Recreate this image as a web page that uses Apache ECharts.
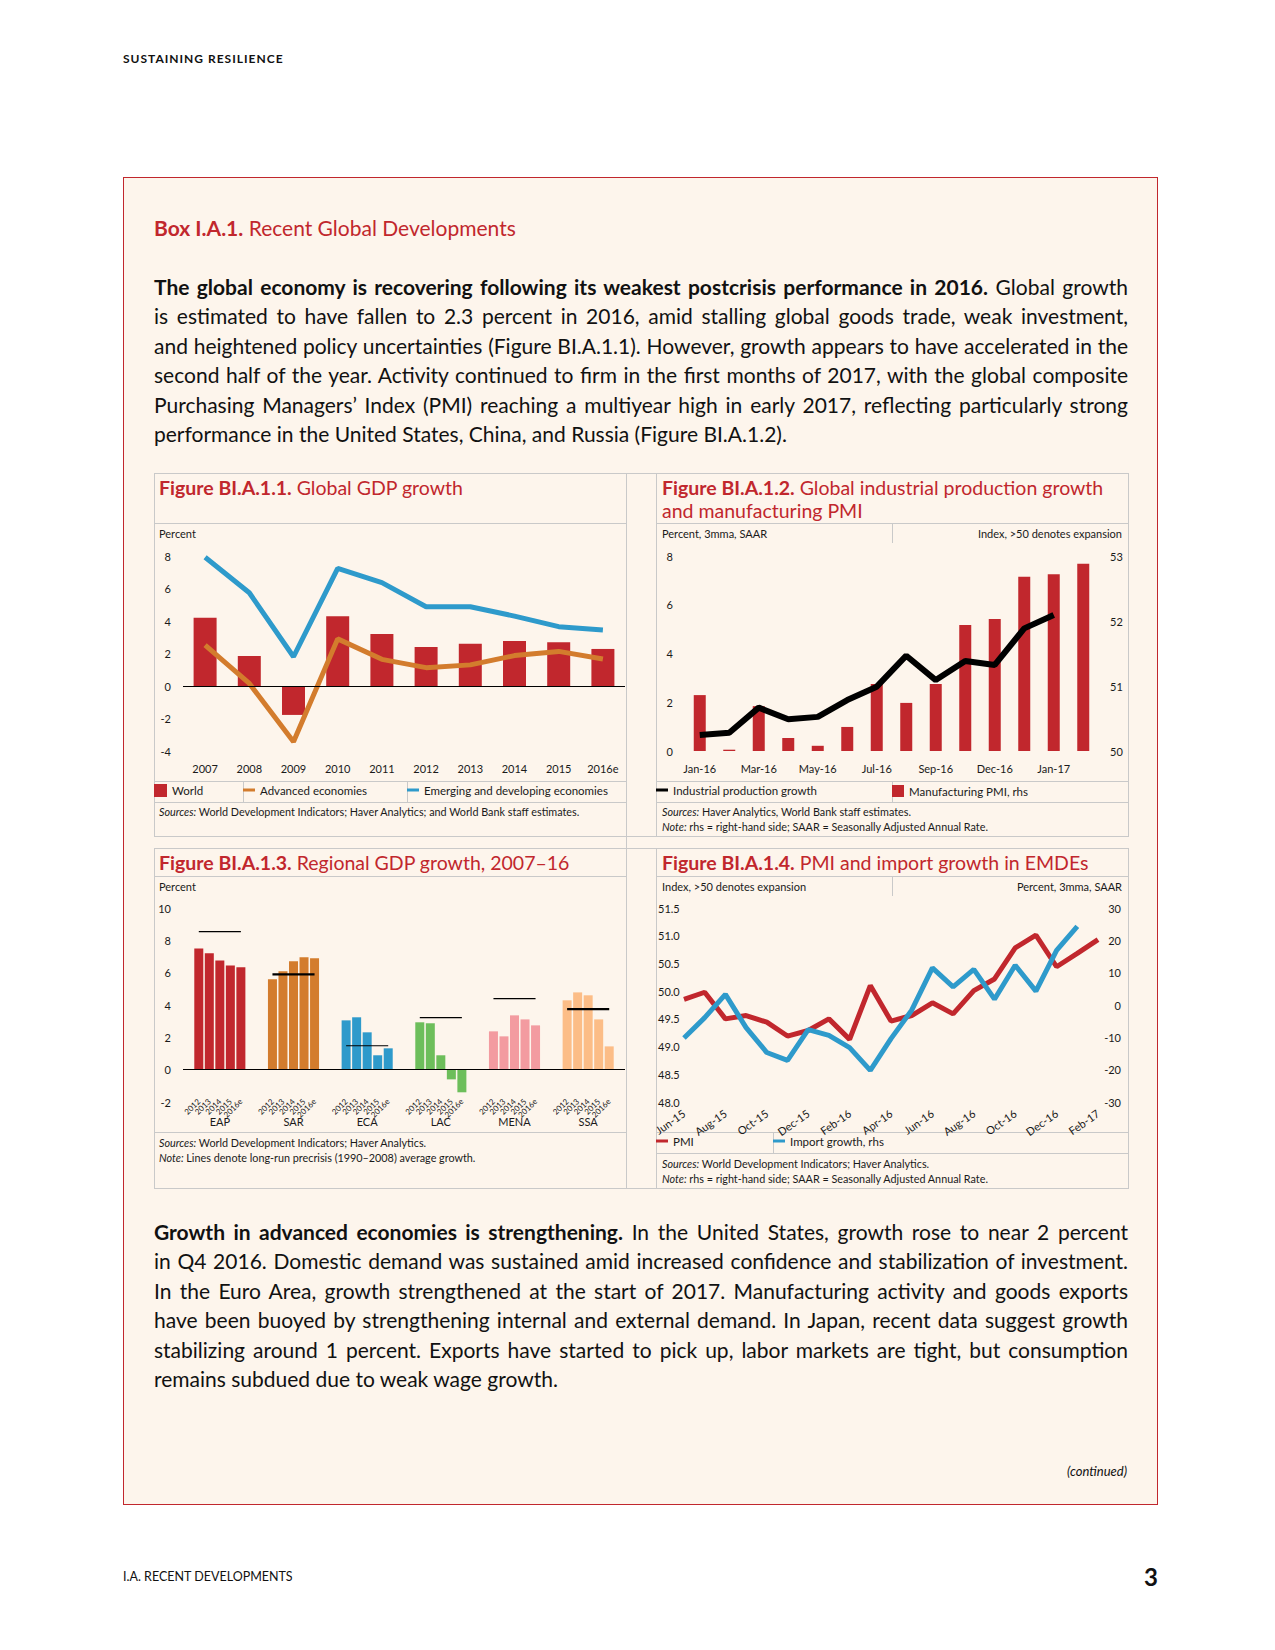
<!DOCTYPE html>
<html><head><meta charset="utf-8">
<script src="https://cdn.jsdelivr.net/npm/echarts@6/dist/echarts.min.js"></script>
<style>
html,body{margin:0;padding:0;background:#fff;}
body{width:1275px;height:1650px;position:relative;overflow:hidden;font-family:Lato,"Open Sans",sans-serif;color:#111;}
#box{position:absolute;left:123px;top:177px;width:1035px;height:1328px;box-sizing:border-box;background:#FDF5EC;border:1px solid #C1272D;}
#chart{position:absolute;left:0;top:0;width:1275px;height:1650px;z-index:1;}
.t{position:absolute;white-space:nowrap;z-index:2;}
.pl{position:absolute;left:154px;width:974px;height:30px;line-height:30px;font-size:21px;white-space:nowrap;z-index:2;color:#111;}
.pl b{font-weight:700;}
</style></head>
<body>
<div id="box"></div>
<div id="chart"></div>
<div class="t" style="left:123px;top:51px;font-size:12px;font-weight:700;letter-spacing:1px;line-height:16px">SUSTAINING RESILIENCE</div>
<div class="t" style="left:154px;top:214px;font-size:21px;line-height:28px;color:#C1272D"><b>Box I.A.1.</b> Recent Global Developments</div>
<div id="paras"></div>
<div class="t" style="right:148px;top:1463px;font-size:13px;line-height:16px;font-style:italic">(continued)</div>
<div class="t" style="left:123px;top:1569px;font-size:12.5px;line-height:16px">I.A. RECENT DEVELOPMENTS</div>
<div class="t" style="right:117px;top:1562px;font-size:24px;line-height:30px;font-weight:700">3</div>
<script>
// ---------- DATA ----------
// Figure BI.A.1.1
const gdpYears = ['2007','2008','2009','2010','2011','2012','2013','2014','2015','2016e'];
const worldGrowth = [4.2, 1.85, -1.78, 4.3, 3.2, 2.4, 2.6, 2.77, 2.7, 2.28];
const advancedGrowth = [2.52, 0.16, -3.43, 2.9, 1.64, 1.13, 1.3, 1.87, 2.13, 1.66];
const emergingGrowth = [7.92, 5.74, 1.8, 7.24, 6.36, 4.88, 4.88, 4.3, 3.65, 3.45];
// Figure BI.A.1.2
const ipMonths = ['Jan-16','Feb-16','Mar-16','Apr-16','May-16','Jun-16','Jul-16','Aug-16','Sep-16','Oct-16','Nov-16','Dec-16','Jan-17','Feb-17'];
const ipTickLabels = ['Jan-16','','Mar-16','','May-16','','Jul-16','','Sep-16','','Dec-16','','Jan-17',''];
const ipGrowth = [0.66, 0.75, 1.78, 1.3, 1.4, 2.09, 2.64, 3.91, 2.91, 3.69, 3.53, 5.03, 5.58, null];
const mfgPMI = [50.86, 50.02, 50.69, 50.2, 50.08, 50.37, 51.03, 50.74, 51.03, 51.94, 52.03, 52.68, 52.72, 52.88];
// Figure BI.A.1.3
const regions = ['EAP','SAR','ECA','LAC','MENA','SSA'];
const regionYears = ['2012','2013','2014','2015','2016e'];
const eapGrowth = [7.5, 7.2, 6.76, 6.45, 6.33];
const sarGrowth = [5.59, 6.08, 6.7, 6.95, 6.89];
const ecaGrowth = [3.05, 3.24, 2.31, 0.89, 1.32];
const lacGrowth = [2.93, 2.87, 0.89, -0.6, -1.4];
const menaGrowth = [2.37, 2.06, 3.36, 3.11, 2.74];
const ssaGrowth = [4.29, 4.78, 4.6, 3.11, 1.44];
const precrisisAvg = [8.54, 5.9, 1.48, 3.22, 4.39, 3.75];
// Figure BI.A.1.4
const emdeMonths = ['Jun-15','Jul-15','Aug-15','Sep-15','Oct-15','Nov-15','Dec-15','Jan-16','Feb-16','Mar-16','Apr-16','May-16','Jun-16','Jul-16','Aug-16','Sep-16','Oct-16','Nov-16','Dec-16','Jan-17','Feb-17'];
const emdePMI = [49.85, 49.98, 49.5, 49.56, 49.44, 49.19, 49.29, 49.5, 49.13, 50.1, 49.46, 49.56, 49.79, 49.59, 50.01, 50.22, 50.78, 51.01, 50.44, 50.68, 50.93];
const importGrowth = [-10.2, -3.9, 3.3, -7.0, -14.7, -17.1, -7.6, -9.4, -13.2, -20.2, -10.4, -1.6, 11.5, 5.6, 11.0, 1.8, 12.3, 4.3, 16.9, 24.3, null];

// ---------- TEXT ----------
const para1 = [
  ['The global economy is recovering following its weakest postcrisis performance in 2016.', ' Global growth'],
  ['', 'is estimated to have fallen to 2.3 percent in 2016, amid stalling global goods trade, weak investment,'],
  ['', 'and heightened policy uncertainties (Figure BI.A.1.1). However, growth appears to have accelerated in the'],
  ['', 'second half of the year. Activity continued to firm in the first months of 2017, with the global composite'],
  ['', 'Purchasing Managers\u2019 Index (PMI) reaching a multiyear high in early 2017, reflecting particularly strong'],
  ['', 'performance in the United States, China, and Russia (Figure BI.A.1.2).']
];
const para2 = [
  ['Growth in advanced economies is strengthening.', ' In the United States, growth rose to near 2 percent'],
  ['', 'in Q4 2016. Domestic demand was sustained amid increased confidence and stabilization of investment.'],
  ['', 'In the Euro Area, growth strengthened at the start of 2017. Manufacturing activity and goods exports'],
  ['', 'have been buoyed by strengthening internal and external demand. In Japan, recent data suggest growth'],
  ['', 'stabilizing around 1 percent. Exports have started to pick up, labor markets are tight, but consumption'],
  ['', 'remains subdued due to weak wage growth.']
];
const parasEl = document.getElementById('paras');
function addPara(lines, top0, step) {
  lines.forEach((ln, i) => {
    const d = document.createElement('div');
    d.className = 'pl';
    d.style.top = (top0 + i * step) + 'px';
    const s = document.createElement('span');
    if (ln[0]) { const b = document.createElement('b'); b.textContent = ln[0]; s.appendChild(b); }
    s.appendChild(document.createTextNode(ln[1]));
    d.appendChild(s);
    d.dataset.last = (i === lines.length - 1) ? '1' : '0';
    parasEl.appendChild(d);
  });
}
addPara(para1, 272, 29.45);
addPara(para2, 1217, 29.45);
function justify() {
  document.querySelectorAll('.pl').forEach(d => {
    const s = d.firstChild;
    s.style.wordSpacing = '0px'; s.style.letterSpacing = '0px';
    const w = s.getBoundingClientRect().width;
    const txt = s.textContent;
    const n = (txt.match(/ /g) || []).length;
    if (w > 974) {
      s.style.letterSpacing = ((974 - w) / txt.length) + 'px';
    } else if (d.dataset.last === '0' && n > 0) {
      s.style.wordSpacing = ((974 - w) / n) + 'px';
    }
  });
}

// ---------- CHART ----------
const FONT = 'Lato, "Open Sans", sans-serif';
const RED = '#C1272D', ORANGE = '#D37C2D', BLUE = '#2E9ACB', BLACK = '#000';
const regionColors = ['#C1272D', '#D37C2D', '#2E9ACB', '#6DBE5B', '#F39BA0', '#FCBD87'];
const avgWidths = [1.2, 2.2, 1.2, 1.2, 1.2, 2.2];
const regionSeries = [eapGrowth, sarGrowth, ecaGrowth, lacGrowth, menaGrowth, ssaGrowth];
const TXT = '#1a1a1a';
const GRAY = '#C9C9C9';

// slots: [gap, 5 years, gap] per region
const slotIds = [], slotValues = [];
const avgData = regions.map(() => []);
regions.forEach((r, ri) => {
  slotIds.push(r + '_a'); slotValues.push(null);
  regionYears.forEach((y, yi) => {
    slotIds.push(r + '|' + y);
    slotValues.push({ value: regionSeries[ri][yi], itemStyle: { color: regionColors[ri] } });
  });
  slotIds.push(r + '_b'); slotValues.push(null);
});
regions.forEach((r, ri) => {
  slotIds.forEach(id => {
    avgData[ri].push(id.indexOf(r + '|') === 0 ? precrisisAvg[ri] : null);
  });
});

const lab = (extra) => Object.assign({ fontSize: 11, color: TXT, fontFamily: FONT }, extra || {});
const hidden = { axisLine: { show: false }, axisTick: { show: false }, splitLine: { show: false } };
function yAx(grid, min, max, interval, extra) {
  return Object.assign({ type: 'value', gridIndex: grid, min, max, interval }, hidden, extra);
}
const zeroLine = { silent: true, symbol: 'none', animation: false, label: { show: false },
  lineStyle: { color: BLACK, width: 1, type: 'solid' }, emphasis: { disabled: true }, data: [{ yAxis: 0 }] };

// graphics: frames & texts
const g = [];
function hl(y, x1, x2) { g.push({ type: 'line', silent: true, shape: { x1, y1: y + 0.5, x2, y2: y + 0.5 }, style: { stroke: GRAY, lineWidth: 1 } }); }
function vl(x, y1, y2) { g.push({ type: 'line', silent: true, shape: { x1: x + 0.5, y1, x2: x + 0.5, y2 }, style: { stroke: GRAY, lineWidth: 1 } }); }
hl(473, 154, 1129); hl(836, 154, 1129); hl(848, 154, 1129); hl(1188, 154, 1129);
[523, 781, 802, 876, 1132].forEach(y => hl(y, 154, 626));
[523, 781, 802, 876, 1132, 1153].forEach(y => hl(y, 656, 1129));
vl(154, 473, 837); vl(154, 848, 1189);
vl(626, 473, 1189);
vl(656, 473, 837); vl(656, 848, 1189);
vl(1128, 473, 837); vl(1128, 848, 1189);
vl(892, 523, 543); vl(892, 781, 802); vl(892, 876, 896);
vl(243, 781, 802); vl(407, 781, 802); vl(773, 1132, 1153);

const rich = {
  b: { fontSize: 19.5, fontFamily: FONT, fontWeight: 'bold', fill: RED },
  r: { fontSize: 19.5, fontFamily: FONT, fontWeight: 'normal', fill: RED },
  i: { fontSize: 10.8, fontFamily: FONT, fontStyle: 'italic', fill: TXT },
  n: { fontSize: 10.8, fontFamily: FONT, fill: TXT }
};
function tx(x, y, text, opts) {
  opts = opts || {};
  g.push({ type: 'text', silent: true, x, y, z: 10,
    style: { text, fontSize: opts.size || 11, fontFamily: FONT, fill: opts.fill || TXT,
      align: opts.align || 'left', textAlign: opts.align || 'left',
      verticalAlign: 'middle', textVerticalAlign: 'middle', rich } });
}
// Panel 1
tx(159, 487, '{b|Figure BI.A.1.1.}{r| Global GDP growth}');
tx(159, 533, 'Percent');
tx(159, 811, '{i|Sources:}{n| World Development Indicators; Haver Analytics; and World Bank staff estimates.}');
// Panel 2
tx(662, 487, '{b|Figure BI.A.1.2.}{r| Global industrial production growth}');
tx(662, 510, '{r|and manufacturing PMI}');
tx(662, 533, 'Percent, 3mma, SAAR');
tx(1122, 533, 'Index, >50 denotes expansion', { align: 'right' });
tx(662, 811, '{i|Sources:}{n| Haver Analytics, World Bank staff estimates.}');
tx(662, 826, '{i|Note:}{n| rhs = right-hand side; SAAR = Seasonally Adjusted Annual Rate.}');
// Panel 3
tx(159, 862, '{b|Figure BI.A.1.3.}{r| Regional GDP growth, 2007\u201316}');
tx(159, 886, 'Percent');
tx(159, 1142, '{i|Sources:}{n| World Development Indicators; Haver Analytics.}');
tx(159, 1157, '{i|Note:}{n| Lines denote long-run precrisis (1990\u20132008) average growth.}');
// Panel 4
tx(662, 862, '{b|Figure BI.A.1.4.}{r| PMI and import growth in EMDEs}');
tx(662, 886, 'Index, >50 denotes expansion');
tx(1122, 886, 'Percent, 3mma, SAAR', { align: 'right' });
tx(662, 1163, '{i|Sources:}{n| World Development Indicators; Haver Analytics.}');
tx(662, 1178, '{i|Note:}{n| rhs = right-hand side; SAAR = Seasonally Adjusted Annual Rate.}');

const legBase = { padding: 0, itemGap: 0, selectedMode: false, textStyle: lab({ fontSize: 11.5 }), itemStyle: { borderWidth: 0 } };
function leg(name, left, top, w, h) {
  return Object.assign({}, legBase, { data: [{ name, icon: 'rect' }], left, top, itemWidth: w, itemHeight: h });
}

const option = {
  animation: false,
  backgroundColor: 'transparent',
  textStyle: { fontFamily: FONT },
  grid: [
    { left: 183, top: 556, width: 442, height: 195 },
    { left: 685, top: 556, width: 413, height: 195 },
    { left: 183, top: 908, width: 442, height: 194 },
    { left: 684, top: 908, width: 414, height: 194 }
  ],
  legend: [
    leg('World', 154, 784, 13, 13),
    leg('Advanced economies', 243, 784, 12, 3),
    leg('Emerging and developing economies', 407, 784, 12, 3),
    leg('Industrial production growth', 656, 784, 12, 3),
    leg('Manufacturing PMI, rhs', 892, 785, 12, 12),
    leg('PMI', 656, 1135, 12, 3),
    leg('Import growth, rhs', 773, 1135, 12, 3)
  ],
  xAxis: [
    Object.assign({ type: 'category', gridIndex: 0, data: gdpYears, axisLabel: lab({ margin: 12 }) }, hidden),
    Object.assign({ type: 'category', gridIndex: 1, data: ipMonths,
      axisLabel: lab({ margin: 12, interval: 0, formatter: (v, i) => ipTickLabels[i] }) }, hidden),
    Object.assign({ type: 'category', gridIndex: 2, data: slotIds,
      axisLabel: lab({ fontSize: 8, margin: -2, interval: 0, rotate: 45,
        formatter: (v) => v.indexOf('|') > 0 ? v.split('|')[1] : '' }) }, hidden),
    Object.assign({ type: 'category', gridIndex: 2, data: regions, position: 'bottom',
      axisLabel: lab({ margin: 14, interval: 0 }) }, hidden),
    Object.assign({ type: 'category', gridIndex: 3, data: emdeMonths, boundaryGap: false,
      axisLabel: lab({ margin: 10, interval: 1, rotate: 35 }) }, hidden)
  ],
  yAxis: [
    yAx(0, -4, 8, 2, { axisLabel: lab({ margin: 12 }) }),
    yAx(1, 0, 8, 2, { axisLabel: lab({ margin: 12 }) }),
    yAx(1, 50, 53, 1, { position: 'right', axisLabel: lab({ margin: 12 }) }),
    yAx(2, -2, 10, 2, { axisLabel: lab({ margin: 12 }) }),
    yAx(3, 48, 51.5, 0.5, { axisLabel: lab({ margin: 26, align: 'left', formatter: v => v.toFixed(1) }) }),
    yAx(3, -30, 30, 10, { position: 'right', axisLabel: lab({ margin: 23, align: 'right' }) })
  ],
  series: [
    { name: 'World', type: 'bar', xAxisIndex: 0, yAxisIndex: 0, data: worldGrowth, barWidth: 23,
      itemStyle: { color: RED }, markLine: zeroLine, z: 2 },
    { name: 'Advanced economies', type: 'line', xAxisIndex: 0, yAxisIndex: 0, data: advancedGrowth,
      symbol: 'none', lineStyle: { color: ORANGE, width: 5 }, itemStyle: { color: ORANGE }, z: 3 },
    { name: 'Emerging and developing economies', type: 'line', xAxisIndex: 0, yAxisIndex: 0, data: emergingGrowth,
      symbol: 'none', lineStyle: { color: BLUE, width: 5 }, itemStyle: { color: BLUE }, z: 3 },

    { name: 'Manufacturing PMI, rhs', type: 'bar', xAxisIndex: 1, yAxisIndex: 2, data: mfgPMI, barWidth: 12,
      itemStyle: { color: RED }, z: 2 },
    { name: 'Industrial production growth', type: 'line', xAxisIndex: 1, yAxisIndex: 1, data: ipGrowth,
      symbol: 'none', lineStyle: { color: BLACK, width: 6 }, itemStyle: { color: BLACK }, z: 3 },

    { name: 'Regional GDP growth', type: 'bar', xAxisIndex: 2, yAxisIndex: 3, data: slotValues, barWidth: 9,
      markLine: zeroLine, z: 2 }
  ].concat(regions.map((r, ri) => ({
      name: 'Precrisis average ' + r, type: 'line', xAxisIndex: 2, yAxisIndex: 3, data: avgData[ri],
      symbol: 'none', connectNulls: false, lineStyle: { color: BLACK, width: avgWidths[ri] },
      itemStyle: { color: BLACK }, z: 4 }))
  ).concat([
    { name: 'PMI', type: 'line', xAxisIndex: 4, yAxisIndex: 4, data: emdePMI,
      symbol: 'none', lineStyle: { color: RED, width: 5 }, itemStyle: { color: RED }, z: 3 },
    { name: 'Import growth, rhs', type: 'line', xAxisIndex: 4, yAxisIndex: 5, data: importGrowth,
      symbol: 'none', lineStyle: { color: BLUE, width: 5 }, itemStyle: { color: BLUE }, z: 4 }
  ]),
  graphic: { elements: g }
};

const chart = echarts.init(document.getElementById('chart'), null, { renderer: 'svg' });
chart.setOption(option);
justify();
if (document.fonts && document.fonts.ready) {
  document.fonts.ready.then(() => { chart.setOption(option, true); justify(); });
}
</script>
</body></html>
